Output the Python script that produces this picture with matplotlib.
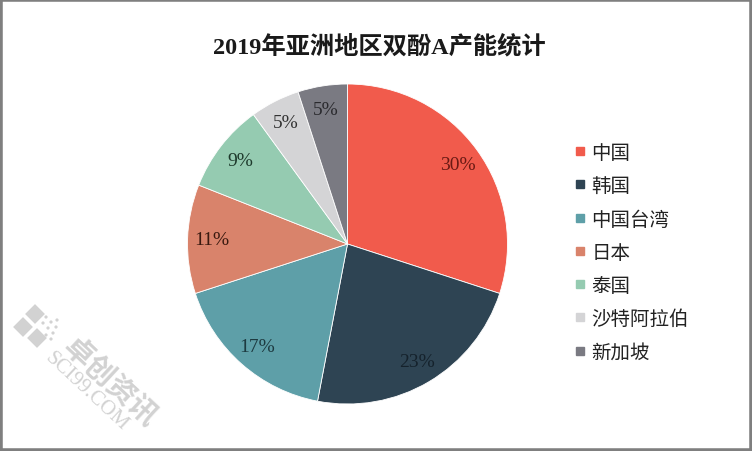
import matplotlib
matplotlib.use("Agg")
import matplotlib.pyplot as plt
from matplotlib.lines import Line2D
from matplotlib.patches import Rectangle, Circle

plt.rcParams['font.family'] = ['Noto Sans CJK SC', 'DejaVu Sans']

title = "2019年亚洲地区双酚A产能统计"
categories = ["中国", "韩国", "中国台湾", "日本", "泰国", "沙特阿拉伯", "新加坡"]
values = [30, 23, 17, 11, 9, 5, 5]
colors = ["#F15B4C", "#2E4453", "#5E9FA8", "#D9836B", "#95CBB1", "#D4D4D6", "#7A7A82"]
label_colors = ["#6a1a14", "#15222c", "#1d3a40", "#3a1a10", "#1e3a2c", "#333333", "#2a2a2e"]

W, H = 752, 452
fig = plt.figure(figsize=(W / 100, H / 100), dpi=100)
fig.patch.set_facecolor("white")

# pie axes: centre (347.5, 245) px from top, radius 160 px
cx, cy, r = 347.5, 245, 160
ax = fig.add_axes([(cx - r) / W, (H - cy - r) / H, 2 * r / W, 2 * r / H])
wedges, texts, autotexts = ax.pie(
    values, colors=colors, startangle=90, counterclock=False,
    autopct="%d%%", pctdistance=0.85,
    wedgeprops=dict(edgecolor="white", linewidth=0.6),
    textprops=dict(fontsize=14, family=["Liberation Serif", "DejaVu Serif"]),
)
for t, c in zip(autotexts, label_colors):
    t.set_color(c)
ax.set_xlim(-1, 1)
ax.set_ylim(-1, 1)
ax.set_aspect("equal")

fig.text(379 / W, 1 - 47 / H, title, ha="center", va="center",
         fontsize=17.5, fontweight="bold", color="#1a1a1a",
         family=["Liberation Serif", "Noto Sans CJK SC"])

handles = [Line2D([], [], marker="s", linestyle="", markersize=6,
                  markerfacecolor=c, markeredgecolor=c) for c in colors]
leg = fig.legend(handles, categories, loc="upper left",
                 bbox_to_anchor=(572 / W, 1 - 143 / H), frameon=False,
                 prop=dict(size=14), labelspacing=0.63, handlelength=0.8,
                 handletextpad=0.2, borderpad=0, borderaxespad=0)
for t in leg.get_texts():
    t.set_color("#222222")

# watermark (pixel coordinates -> inches, y from bottom)
def px(x, y):
    return x / 100, (H - y) / 100

wm = dict(color="#d2d2d2", rotation=-43, ha="center", va="center",
          rotation_mode="anchor", transform=fig.dpi_scale_trans)
fig.text(*px(110, 382), "卓创资讯", fontsize=21, fontweight="bold", **wm)
fig.text(*px(86, 392), "SCI99.COM", fontsize=15,
         family=["Liberation Serif"], **wm)
s = 14 / 100
for (x, y) in [(35, 315), (23, 328), (37, 339)]:
    X, Y = px(x, y)
    fig.patches.append(Rectangle((X, Y - s * 0.7071), s, s, angle=45,
                                 transform=fig.dpi_scale_trans,
                                 facecolor="#d2d2d2", edgecolor="none"))
for (x, y) in [(46, 318), (51, 323), (56, 328), (43, 324), (48, 329),
               (53, 334), (46, 336), (51, 340), (57, 321)]:
    fig.patches.append(Circle(px(x, y), 1.6 / 100, transform=fig.dpi_scale_trans,
                              facecolor="#d2d2d2", edgecolor="none"))

# grey border
fig.patches.append(Rectangle((0, 0), 1, 1, transform=fig.transFigure,
                             fill=False, edgecolor="#7f7f7f", linewidth=4))

fig.savefig("out.png", dpi=100, facecolor="white")
